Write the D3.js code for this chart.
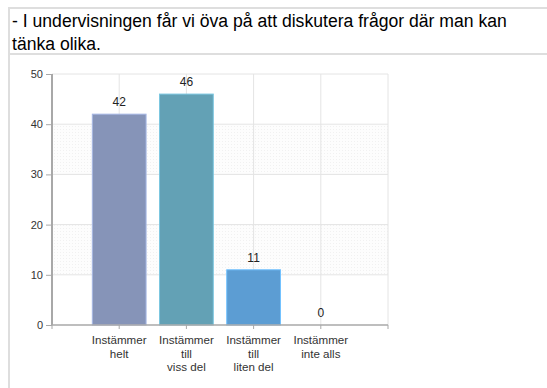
<!DOCTYPE html>
<html>
<head>
<meta charset="utf-8">
<script src="https://cdn.jsdelivr.net/npm/d3@7"></script>
<style>
  html, body { margin: 0; padding: 0; background: #fff; }
  svg { display: block; font-family: "Liberation Sans", Arial, sans-serif; }
</style>
</head>
<body>
<svg id="chart" width="547" height="388"></svg>
<script>
// Survey question and answers
const titleLines = [
  "- I undervisningen får vi öva på att diskutera frågor där man kan",
  "tänka olika."
];
const categories = ["Instämmer helt", "Instämmer till viss del", "Instämmer till liten del", "Instämmer inte alls"];
const categoryLines = [
  ["Instämmer", "helt"],
  ["Instämmer", "till", "viss del"],
  ["Instämmer", "till", "liten del"],
  ["Instämmer", "inte alls"]
];
const values = [42, 46, 11, 0];
const barColors = ["#8694b8", "#63a1b5", "#5c9dd3", "#8fb7d9"];
const yTicks = [0, 10, 20, 30, 40, 50];

const svg = d3.select("#chart");

// Frame around the question and the chart
const frame = "#dedede";
svg.append("line").attr("x1", 9).attr("x2", 547).attr("y1", 8).attr("y2", 8)
  .attr("stroke", frame).attr("stroke-width", 2);
svg.append("line").attr("x1", 9).attr("x2", 547).attr("y1", 54).attr("y2", 54)
  .attr("stroke", frame).attr("stroke-width", 2);
svg.append("line").attr("x1", 9).attr("x2", 9).attr("y1", 7).attr("y2", 388)
  .attr("stroke", frame).attr("stroke-width", 2);

svg.append("g").selectAll("text").data(titleLines).join("text")
  .attr("x", 12)
  .attr("y", (d, i) => 27 + i * 22.5)
  .attr("font-size", 17.6)
  .attr("fill", "#000")
  .text(d => d);

// Scales
const y = d3.scaleLinear().domain([0, 50]).range([325, 74]);
const x = d3.scalePoint().domain(categories).range([119.2, 320.8]);
const step = x.step();
const left = x(categories[0]) - step;
const right = x(categories[categories.length - 1]) + step;
const barW = step * 0.8;

// Dotted background bands
const defs = svg.append("defs");
const pat = defs.append("pattern").attr("id", "dots")
  .attr("width", 3).attr("height", 3).attr("patternUnits", "userSpaceOnUse");
pat.append("rect").attr("width", 3).attr("height", 3).attr("fill", "#fdfdfd");
pat.append("rect").attr("width", 1).attr("height", 1).attr("fill", "#f1f1f1");

const bands = [[10, 20], [30, 40]];
svg.append("g").selectAll("rect").data(bands).join("rect")
  .attr("x", left).attr("width", right - left)
  .attr("y", d => y(d[1])).attr("height", d => y(d[0]) - y(d[1]))
  .attr("fill", "url(#dots)");

// Grid
const grid = svg.append("g").attr("stroke", "#e4e4e4").attr("stroke-width", 1);
grid.selectAll("line.h").data(yTicks.filter(t => t > 0)).join("line")
  .attr("class", "h")
  .attr("x1", left).attr("x2", right)
  .attr("y1", d => y(d)).attr("y2", d => y(d));
grid.selectAll("line.v").data([...categories.map(c => x(c)), right]).join("line")
  .attr("class", "v")
  .attr("x1", d => d).attr("x2", d => d)
  .attr("y1", y(50)).attr("y2", y(0));

// Bars
svg.append("g").selectAll("rect").data(values).join("rect")
  .attr("x", (d, i) => x(categories[i]) - barW / 2)
  .attr("width", barW)
  .attr("y", d => y(d))
  .attr("height", d => y(0) - y(d))
  .attr("fill", (d, i) => barColors[i])
  .attr("stroke", (d, i) => d3.color(barColors[i]).brighter(0.6))
  .attr("stroke-width", 1);

// Value labels
svg.append("g").selectAll("text").data(values).join("text")
  .attr("x", (d, i) => x(categories[i]))
  .attr("y", d => y(d) - 8)
  .attr("text-anchor", "middle")
  .attr("font-size", 12)
  .attr("fill", "#222")
  .text(d => d);

// Y axis
const yAxis = svg.append("g").attr("transform", `translate(${left},0)`)
  .call(d3.axisLeft(y).tickValues(yTicks).tickSize(6).tickPadding(3));
yAxis.select(".domain").attr("stroke", "#a8a8a8").attr("stroke-width", 2)
  .attr("d", `M0,${y(50)}V${y(0)}`);
yAxis.selectAll(".tick line").attr("stroke", "#a8a8a8");
yAxis.selectAll(".tick text").attr("font-size", 11).attr("fill", "#333")
  .attr("font-family", "Liberation Sans, Arial, sans-serif");

// X axis
const xAxis = svg.append("g").attr("transform", `translate(0,${y(0)})`);
xAxis.append("line").attr("x1", left).attr("x2", right).attr("y1", 0).attr("y2", 0)
  .attr("stroke", "#a8a8a8").attr("stroke-width", 1.5);
xAxis.selectAll("line.tick").data([left, ...categories.map(c => x(c)), right]).join("line")
  .attr("class", "tick")
  .attr("x1", d => d).attr("x2", d => d).attr("y1", 0).attr("y2", 4)
  .attr("stroke", "#a8a8a8");

const labels = xAxis.selectAll("text").data(categoryLines).join("text")
  .attr("text-anchor", "middle")
  .attr("font-size", 11.6)
  .attr("fill", "#333");
labels.selectAll("tspan").data((d, i) => d.map(t => ({ t, i }))).join("tspan")
  .attr("x", d => x(categories[d.i]))
  .attr("y", (d, j) => 19 + j * 13.5)
  .text(d => d.t);
</script>
</body>
</html>
